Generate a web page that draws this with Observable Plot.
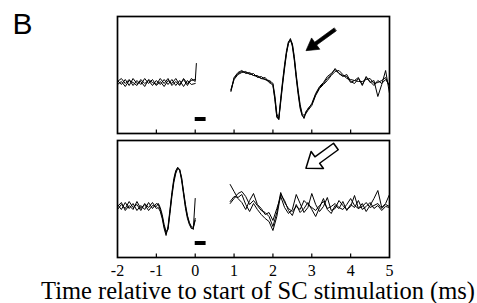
<!DOCTYPE html>
<html><head><meta charset="utf-8">
<script src="https://cdn.jsdelivr.net/npm/d3@7"></script>
<script src="https://cdn.jsdelivr.net/npm/@observablehq/plot@0.6"></script>
<style>body{margin:0;background:#fff}</style>
</head><body><div id="chart"></div>
<script>
// x tick labels
const xTicks = [-2, -1, 0, 1, 2, 3, 4, 5];
const innerTicks = [-1, 0, 1, 2, 3, 4];
const panels = ["top", "bottom"];

// Top panel
const tPreTop = [-2,-1.9,-1.8,-1.7,-1.6,-1.5,-1.4,-1.3,-1.2,-1.1,-1,-0.9,-0.8,-0.7,-0.6,-0.5,-0.4,-0.3,-0.2,-0.1,0,0.03];
const topPreA = [1,4,-1,3,-3,2,-2,4,-1,3,-3,1,-4,2,-1,4,-2,3,-3,4,1,19];
const topPreB = [-2,1,-4,2,0,-3,3,-1,2,-3,2,-2,3,-2,3,-3,2,-4,2,-2,-1,null];
const topPreC = [2,-2,3,-3,4,-1,1,-4,3,0,-2,4,-1,4,-3,1,-3,4,-1,2,3,null];

const tPostTop = [0.92,1,1.1,1.2,1.3,1.4,1.5,1.6,1.7,1.8,1.9,1.95,2,2.05,2.1,2.15,2.2,2.25,2.3,2.35,2.4,2.45,2.5,2.55,2.6,2.65,2.7,2.75,2.8,2.85,2.9,3,3.1,3.2,3.3,3.4,3.5,3.6,3.7,3.8,3.9,4,4.1,4.2,4.3,4.4,4.5,4.6,4.7,4.8,4.9,5];
const topPostA = [-8,5,10,12,9,10,7,6,4,5,0,-1,-3,-17,-35,-36,-16,2,18,32,41,43,36,22,4,-12,-26,-33,-35,-29,-27,-21,-11,-4,0,6,9,13,9,6,8,1,-1,4,-2,5,1,-3,2,-1,3,-3];
const topPostB = [-7,3,8,10,11,8,9,5,6,3,2,1,-1,-13,-31,-37,-20,-2,14,29,39,42,39,26,8,-8,-22,-31,-33,-31,-28,-23,-13,-6,-2,2,7,11,12,8,4,3,2,1,1,3,4,-1,0,2,5,-4];
const topPostC = [-9,4,9,11,10,9,7,7,4,3,1,0,-2,-16,-34,-37,-18,0,16,30,40,44,38,24,6,-10,-24,-32,-36,-30,-26,-22,-12,-5,-1,4,8,14,9,7,6,0,2,5,-3,6,0,2,-14,-2,12,-11];

// Bottom panel
const tPreBot = [-2,-1.9,-1.8,-1.7,-1.6,-1.5,-1.4,-1.3,-1.2,-1.1,-1,-0.95,-0.9,-0.85,-0.8,-0.75,-0.7,-0.65,-0.6,-0.55,-0.5,-0.45,-0.4,-0.35,-0.3,-0.25,-0.2,-0.15,-0.1,-0.05,0];
const botPreA = [2,-3,4,-2,3,-4,1,-3,4,-2,3,2,-3,-10,-20,-27,-22,-5,12,26,35,39,37,28,14,0,-10,-17,-21,-23,8];
const botPreB = [-3,2,-2,5,-1,2,-4,3,-1,4,-2,-1,-5,-12,-22,-29,-20,-3,14,28,36,39,36,26,12,-2,-12,-18,-22,-22,-12];
const botPreC = [0,4,-4,1,-3,5,-2,2,-4,1,0,3,-1,-8,-18,-25,-23,-7,10,24,33,38,37,29,15,2,-9,-16,-20,-21,-14];

const tPostBot = [0.9,1,1.1,1.2,1.3,1.4,1.5,1.6,1.7,1.8,1.9,2,2.1,2.2,2.3,2.4,2.5,2.6,2.7,2.8,2.9,3,3.1,3.2,3.3,3.4,3.5,3.6,3.7,3.8,3.9,4,4.1,4.2,4.3,4.4,4.5,4.6,4.7,4.8,4.9,5];
const botPostA = [3,8,13,15,10,2,6,1,-4,-6,-10,-20,-6,14,4,-2,-5,0,-3,6,2,-1,-4,1,5,-2,0,3,-1,-3,2,8,1,-2,0,4,-1,1,3,-2,2,0];
const botPostB = [22,15,8,4,-3,6,13,2,-2,-8,-6,-14,-2,10,-1,-7,-3,12,3,-6,-1,13,2,-5,0,9,-4,-2,6,1,-3,0,11,-2,3,-5,1,8,16,-1,3,12];
const botPostC = [5,10,9,12,2,-5,3,-3,-8,-12,-15,-24,-10,12,6,-4,-9,2,-6,-2,4,-3,-10,-1,8,-3,-7,1,-2,5,-4,2,-1,6,-3,0,4,-2,1,-4,0,-1];

// stimulation bar and arrows
const stim = {start: 0, end: 0.28, low: -39, high: -35};
const arrows = [
  {panel: "top", t: 3.6, v: 53, kind: "filled"},
  {panel: "bottom", t: 3.62, v: 60, kind: "open"}
];

const rows = [];
function addTrace(panel, key, ts, vs) {
  ts.forEach((t, i) => rows.push({panel, key: panel + key, t, v: vs[i]}));
}
addTrace("top", "preA", tPreTop, topPreA);
addTrace("top", "preB", tPreTop, topPreB);
addTrace("top", "preC", tPreTop, topPreC);
addTrace("top", "postA", tPostTop, topPostA);
addTrace("top", "postB", tPostTop, topPostB);
addTrace("top", "postC", tPostTop, topPostC);
addTrace("bottom", "preA", tPreBot, botPreA);
addTrace("bottom", "preB", tPreBot, botPreB);
addTrace("bottom", "preC", tPreBot, botPreC);
addTrace("bottom", "postA", tPostBot, botPostA);
addTrace("bottom", "postB", tPostBot, botPostB);
addTrace("bottom", "postC", tPostBot, botPostC);

function arrowShape(shaftW, headW, headL) {
  return {
    draw(ctx, l) {
      ctx.moveTo(-shaftW / 2, 0);
      ctx.lineTo(-shaftW / 2, -l + headL);
      ctx.lineTo(-headW / 2, -l + headL);
      ctx.lineTo(0, -l);
      ctx.lineTo(headW / 2, -l + headL);
      ctx.lineTo(shaftW / 2, -l + headL);
      ctx.lineTo(shaftW / 2, 0);
      ctx.closePath();
    }
  };
}

const yMin = -51, yMax = 66;
const serif = "'Liberation Serif', 'Times New Roman', serif";

const chart = Plot.plot({
  width: 477,
  height: 303,
  marginLeft: 117,
  marginRight: 88,
  marginTop: 16,
  marginBottom: 46,
  style: {fontFamily: serif, background: "white", color: "black"},
  x: {domain: [-2, 5], axis: null},
  y: {domain: [yMin, yMax], axis: null},
  fy: {domain: panels, axis: null, paddingInner: 0.06, paddingOuter: 0},
  marks: [
    Plot.frame({stroke: "black", strokeWidth: 1.7}),
    Plot.ruleX(innerTicks, {x: d => d, y1: () => yMin, y2: () => yMin + 3.5, stroke: "black", strokeWidth: 1.2}),
    Plot.line(rows, {x: "t", y: "v", z: "key", fy: "panel", stroke: "black", strokeWidth: 1}),
    Plot.rect(panels, {x1: () => stim.start, x2: () => stim.end, y1: () => stim.low, y2: () => stim.high, fy: d => d, fill: "black"}),
    Plot.vector(arrows.filter(d => d.kind === "filled"), {x: "t", y: "v", fy: "panel", anchor: "start", length: 36, rotate: 234,
      shape: arrowShape(3.5, 14, 12), fill: "black", stroke: "black", strokeWidth: 0.6}),
    Plot.vector(arrows.filter(d => d.kind === "open"), {x: "t", y: "v", fy: "panel", anchor: "start", length: 37, rotate: 234,
      shape: arrowShape(8, 21, 14), fill: "white", stroke: "black", strokeWidth: 1.5}),
    Plot.text([{panel: "top", label: "B"}], {fy: "panel", text: "label", frameAnchor: "top-left", dx: -105, dy: -4, textAnchor: "start", lineAnchor: "top",
      fontFamily: "'Liberation Sans', Arial, sans-serif", fontSize: 30, fill: "black"}),
    // tick labels
    Plot.text(xTicks, {x: d => d, fy: () => "bottom", text: d => String(d), frameAnchor: "bottom", dy: 7, lineAnchor: "top",
      fontFamily: serif, fontSize: 16, fill: "black"}),
    // axis title
    Plot.text([{panel: "bottom", label: "Time relative to start of SC stimulation (ms)"}], {fy: "panel", text: "label", frameAnchor: "bottom", dx: 4.5, dy: 24, lineAnchor: "top",
      fontFamily: serif, fontSize: 24.5, fill: "black"})
  ]
});
document.getElementById("chart").append(chart);
</script></body></html>
